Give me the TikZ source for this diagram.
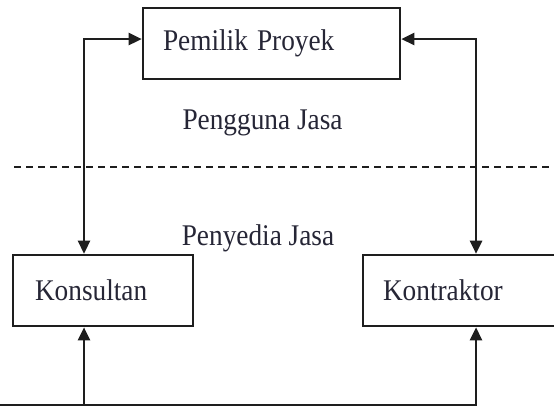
\documentclass[tikz,border=0pt]{standalone}
\usepackage{fontspec}
\setmainfont{Liberation Serif}
\usetikzlibrary{arrows.meta}
\definecolor{ink}{HTML}{1E1E1E}
\definecolor{txt}{HTML}{262636}
\newcommand{\tl}[1]{\scalebox{1}[1.1]{#1}}
\begin{document}
\begin{tikzpicture}[x=1pt,y=-1pt,
  font=\fontsize{27.3}{30}\selectfont,
  boxnode/.style={draw=ink,line width=2.6pt,rectangle,text=txt,
    minimum height=71pt,inner ysep=0pt,align=left},
  lbl/.style={text=txt,inner sep=0pt},
  conn/.style={draw=ink,line width=2.6pt,{Triangle[length=13pt,width=12pt]}-{Triangle[length=13pt,width=12pt]}},
  divider/.style={draw=ink,line width=2pt,dash pattern=on 7pt off 5pt}]
\clip (0,0) rectangle (554,408);
\fill[white] (0,0) rectangle (554,408);
\node[boxnode,minimum width=257pt,text width=217pt,inner xsep=20pt] (pp) at (271.5,43.5) {\tl{Pemilik Proyek}};
\node[boxnode,minimum width=180pt,text width=136pt,inner xsep=22pt] (kons) at (103,290.5) {\tl{Konsultan}};
\node[boxnode,minimum width=200pt,text width=160pt,inner xsep=20pt] (kontr) at (463,290.5) {\tl{Kontraktor}};
\node[lbl] (pengguna) at (262.5,123) {\tl{Pengguna Jasa}};
\node[lbl] (penyedia) at (258,238) {\tl{Penyedia Jasa}};
\coordinate (lx) at (84,0);
\coordinate (rx) at (476,0);
\coordinate (by) at (0,405);
\coordinate (dl) at (14,167);
\coordinate (dr) at (554,167);
\draw[divider] (dl) -- (dr);
\draw[conn] ([yshift=4.5pt]pp.west) -| (lx |- kons.north);
\draw[conn] ([yshift=4.5pt]pp.east) -| (rx |- kontr.north);
\draw[conn] (lx |- kons.south) |- (by) -| (rx |- kontr.south);
\end{tikzpicture}
\end{document}
